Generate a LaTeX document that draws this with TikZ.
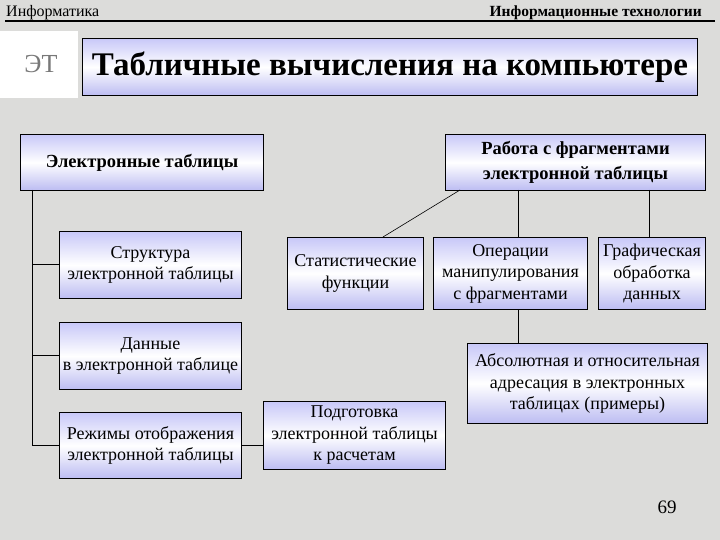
\documentclass[tikz,border=0pt]{standalone}
\usepackage{fontspec}
\setmainfont{Liberation Serif}
\definecolor{bggrey}{RGB}{220,220,218}
\definecolor{lavtop}{RGB}{200,200,248}
\definecolor{lavbot}{RGB}{188,188,242}
\definecolor{etgrey}{RGB}{120,120,120}
\tikzset{
  box/.style={draw=black, line width=1pt, anchor=north west, inner sep=0pt,
    top color=lavtop, bottom color=lavbot, middle color=white,
    align=center, font=\fontsize{18}{21.5}\selectfont},
  boldbox/.style={box, font=\fontsize{18.5}{25}\selectfont\bfseries},
  conn/.style={draw=black, line width=1pt},
}
\begin{document}
\begin{tikzpicture}[x=1pt,y=-1pt]
\fill[bggrey] (0,0) rectangle (720,540);
\useasboundingbox (0,0) rectangle (720,540);
% header
\node[anchor=base west, inner sep=0pt, font=\fontsize{16}{18}\selectfont] (hl) at (6,17) {Информатика};
\node[anchor=base east, inner sep=0pt, font=\fontsize{15.5}{18}\selectfont\bfseries] (hr) at (702,17) {Информационные технологии};
\coordinate (l1) at (5,21);
\coordinate (l2) at (715,21);
\draw[black, line width=1.2pt] (l1) -- (l2);
% ET
\fill[white] (0,31) rectangle (78,98);
\node[font=\fontsize{26}{28}\selectfont, text=etgrey] (et) at (41,64) {ЭТ};
% title
\node[box, minimum width=615pt, minimum height=57pt, font=\fontsize{33}{36}\selectfont\bfseries] (title) at (82,38) {Табличные вычисления на компьютере};
% main boxes
\node[boldbox, minimum width=243pt, minimum height=56pt] (et1) at (20,134) {Электронные таблицы};
\node[boldbox, minimum width=260pt, minimum height=56pt] (rab) at (445,134) {Работа с фрагментами\\электронной таблицы};
\node[box, minimum width=182pt, minimum height=67pt] (str) at (59,231) {Структура\\электронной таблицы};
\node[box, minimum width=182pt, minimum height=67pt] (dan) at (59,322) {Данные\\в электронной таблице};
\node[box, minimum width=182pt, minimum height=66pt] (rez) at (59,412) {Режимы отображения\\электронной таблицы};
\node[box, minimum width=182pt, minimum height=68pt] (pod) at (263,401) {Подготовка\\электронной таблицы\\к расчетам};
\node[box, minimum width=136pt, minimum height=72pt] (sta) at (287,237) {Статистические\\функции};
\node[box, minimum width=154pt, minimum height=72pt] (opr) at (433,237) {Операции\\манипулирования\\с фрагментами};
\node[box, minimum width=107pt, minimum height=72pt] (gra) at (598,237) {Графическая\\обработка\\данных};
\node[box, minimum width=240pt, minimum height=80pt] (abs) at (467,343) {Абсолютная и относительная\\адресация в электронных\\таблицах (примеры)};
% connectors
\coordinate (t1) at (32,190);
\coordinate (tb) at (32,445);
\draw[conn] (t1) -- (tb);
\draw[conn] (32,264) -- (str.west |- 0,264);
\draw[conn] (32,355) -- (dan.west |- 0,355);
\draw[conn] (tb) -- (rez.west |- tb);
\draw[conn] (rez.east |- 0,445) -- (pod.west |- 0,445);
\draw[line width=0.6pt] (460,190) -- (383,237);
\draw[conn] (518,190) -- (518,237);
\draw[conn] (518,309) -- (518,343);
\draw[conn] (649,190) -- (649,237);
% page number
\node[font=\fontsize{19}{22}\selectfont] (pn) at (667,507) {69};
\end{tikzpicture}
\end{document}
